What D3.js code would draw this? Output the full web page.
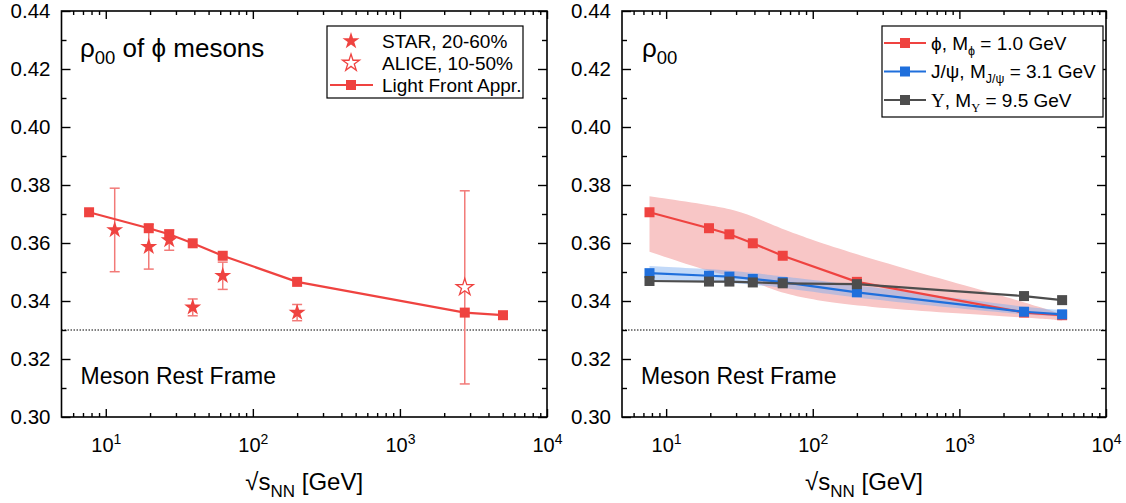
<!DOCTYPE html>
<html>
<head>
<meta charset="utf-8">
<script src="https://cdn.jsdelivr.net/npm/d3@7"></script>
<style>
  body { margin: 0; background: #fff; }
  svg { font-family: "Liberation Sans", Arial, sans-serif; }
</style>
</head>
<body>
<svg id="chart" width="1126" height="503"></svg>
<script>
// Energies (GeV) and light-front rho00 for phi
const energies = [7.7, 19.6, 27, 39, 62.4, 200, 2760, 5020];
const rhoPhi = [0.3706, 0.3651, 0.3630, 0.3599, 0.3556, 0.3466, 0.3360, 0.3351];
const rhoJpsi = [0.3496, 0.3487, 0.3484, 0.3476, 0.3465, 0.3430, 0.3363, 0.3354];
const rhoUps = [0.3469, 0.3467, 0.3467, 0.3464, 0.3461, 0.3458, 0.3417, 0.3403];

// bands (right panel)
const phiUpper = [0.3761, 0.3731, 0.3718, 0.3694, 0.3645, 0.3557, 0.3398, 0.3354];
const phiLower = [0.3570, 0.3501, 0.3488, 0.3470, 0.3421, 0.3378, 0.3344, 0.3333];
const jpsiUpper = [0.3521, 0.3510, 0.3505, 0.3497, 0.3485, 0.3455, 0.3378, 0.3369];
const jpsiLower = [0.3472, 0.3466, 0.3462, 0.3456, 0.3447, 0.3409, 0.3352, 0.3346];

// data points (left panel)
const starEnergy = [11.5, 19.6, 27, 39, 62.4, 200];
const starRho = [0.3645, 0.3587, 0.3610, 0.3378, 0.3487, 0.3360];
const starErr = [0.0144, 0.0077, 0.0035, 0.0029, 0.0047, 0.0028];
const aliceEnergy = [2760];
const aliceRho = [0.3447];
const aliceErr = [0.0333];

const yTicks = [0.30, 0.32, 0.34, 0.36, 0.38, 0.40, 0.42, 0.44];
const yMinor = [0.31, 0.33, 0.35, 0.37, 0.39, 0.41, 0.43];
const xMajor = [10, 100, 1000, 10000];

const red = "#ef4340", blue = "#1f6fdc", gray = "#4d4d4d";

const svg = d3.select("#chart");
const plotTop = 11, plotBottom = 417;

const y = d3.scaleLinear().domain([0.30, 0.44]).range([plotBottom, plotTop]);

const xMinor = [];
[1, 10, 100, 1000].forEach(d => { for (let k = 2; k <= 9; k++) if (d * k > 5) xMinor.push(d * k); });

function panel(x0, x1) {
  const x = d3.scaleLog().domain([5, 10000]).range([x0, x1]);
  const g = svg.append("g");

  // dotted line at 0.33
  g.append("line")
    .attr("x1", x0).attr("x2", x1)
    .attr("y1", y(0.33)).attr("y2", y(0.33))
    .attr("stroke", "#000").attr("stroke-width", 1)
    .attr("stroke-dasharray", "1.5,1.5");

  // axes
  const fmt = d3.format(".2f");
  g.append("g").attr("transform", `translate(${x0},0)`)
    .call(d3.axisLeft(y).tickValues(yTicks).tickSize(-9).tickSizeOuter(0).tickPadding(11).tickFormat(fmt))
    .call(a => a.selectAll("text").attr("font-size", 20.5).attr("fill", "#000").attr("font-family", "Liberation Sans, Arial"));
  g.append("g").attr("transform", `translate(${x0},0)`)
    .call(d3.axisLeft(y).tickValues(yMinor).tickSize(-5).tickSizeOuter(0).tickFormat(""));
  g.append("g").attr("transform", `translate(${x1},0)`)
    .call(d3.axisRight(y).tickValues(yTicks).tickSize(-9).tickSizeOuter(0).tickFormat(""));
  g.append("g").attr("transform", `translate(${x1},0)`)
    .call(d3.axisRight(y).tickValues(yMinor).tickSize(-5).tickSizeOuter(0).tickFormat(""));

  const xb = g.append("g").attr("transform", `translate(0,${plotBottom})`)
    .call(d3.axisBottom(x).tickValues(xMajor).tickSize(-8).tickSizeOuter(0).tickPadding(14).tickFormat(""));
  xb.selectAll(".tick text").each(function(d) {
    const t = d3.select(this).attr("font-size", 20).attr("fill", "#000")
      .attr("font-family", "Liberation Sans, Arial").attr("dy", "1.05em");
    t.append("tspan").text("10");
    t.append("tspan").attr("font-size", 14).attr("dy", "-0.55em").text(Math.round(Math.log10(d)));
  });
  g.append("g").attr("transform", `translate(0,${plotBottom})`)
    .call(d3.axisBottom(x).tickValues(xMinor).tickSize(-4).tickSizeOuter(0).tickFormat(""));
  g.append("g").attr("transform", `translate(0,${plotTop})`)
    .call(d3.axisTop(x).tickValues(xMajor).tickSize(-8).tickSizeOuter(0).tickFormat(""));
  g.append("g").attr("transform", `translate(0,${plotTop})`)
    .call(d3.axisTop(x).tickValues(xMinor).tickSize(-4).tickSizeOuter(0).tickFormat(""));
  g.selectAll(".domain").remove();
  g.selectAll(".tick line").attr("stroke-width", 1.4);

  g.append("rect")
    .attr("x", x0).attr("y", plotTop)
    .attr("width", x1 - x0).attr("height", plotBottom - plotTop)
    .attr("fill", "none").attr("stroke", "#000").attr("stroke-width", 1.6);

  // x-axis title
  const xt = g.append("text")
    .attr("x", (x0 + x1) / 2).attr("y", 490)
    .attr("text-anchor", "middle").attr("font-size", 24);
  xt.append("tspan").text("√s");
  xt.append("tspan").attr("font-size", 17).attr("dy", 7).text("NN");
  xt.append("tspan").attr("dy", -7).text(" [GeV]");

  g.append("text")
    .attr("x", x0 + 19).attr("y", 384)
    .attr("font-size", 23).text("Meson Rest Frame");

  return { g, x };
}

function squares(g, x, vals, color) {
  g.append("g").selectAll("rect")
    .data(energies.map((e, i) => [e, vals[i]]))
    .join("rect")
    .attr("x", d => x(d[0]) - 5).attr("y", d => y(d[1]) - 5)
    .attr("width", 10).attr("height", 10)
    .attr("fill", color);
}

function seriesLine(g, x, vals, color) {
  const line = d3.line().x((d, i) => x(energies[i])).y(d => y(d));
  g.append("path").datum(vals)
    .attr("fill", "none").attr("stroke", color).attr("stroke-width", 2.2)
    .attr("d", line);
  squares(g, x, vals, color);
}

function title(g, xPos, rest) {
  const t = g.append("text").attr("x", xPos).attr("y", 57).attr("font-size", 26);
  t.append("tspan").text("ρ");
  t.append("tspan").attr("font-size", 18.5).attr("dy", 7).text("00");
  if (rest) t.append("tspan").attr("dy", -7).text(rest);
}

// ---- Left panel ----
const L = panel(61.5, 547);
{
  const { g, x } = L;
  const errColor = "#f27a78";
  const bars = (E, R, Er) => E.map((e, i) => ({ e, r: R[i], er: Er[i] }));
  const allErr = bars(starEnergy, starRho, starErr).concat(bars(aliceEnergy, aliceRho, aliceErr));
  const eg = g.append("g").attr("stroke", errColor).attr("stroke-width", 1.5);
  allErr.forEach(d => {
    eg.append("line").attr("x1", x(d.e)).attr("x2", x(d.e))
      .attr("y1", y(d.r - d.er)).attr("y2", y(d.r + d.er));
    [d.r - d.er, d.r + d.er].forEach(v => eg.append("line")
      .attr("x1", x(d.e) - 5).attr("x2", x(d.e) + 5)
      .attr("y1", y(v)).attr("y2", y(v)));
  });

  seriesLine(g, x, rhoPhi, red);

  const star = d3.symbol().type(d3.symbolStar).size(90);
  g.append("g").selectAll("path")
    .data(starEnergy.map((e, i) => [e, starRho[i]]))
    .join("path")
    .attr("transform", d => `translate(${x(d[0])},${y(d[1])})`)
    .attr("d", star).attr("fill", red);
  g.append("g").selectAll("path")
    .data(aliceEnergy.map((e, i) => [e, aliceRho[i]]))
    .join("path")
    .attr("transform", d => `translate(${x(d[0])},${y(d[1])})`)
    .attr("d", star).attr("fill", "#fff").attr("stroke", red).attr("stroke-width", 1.3);

  title(g, 80, " of ϕ mesons");

  // legend
  const lg = g.append("g");
  lg.append("rect").attr("x", 327).attr("y", 26).attr("width", 196).attr("height", 72)
    .attr("fill", "#fff").attr("stroke", "#000").attr("stroke-width", 1.2);
  lg.append("path").attr("transform", "translate(351,41)").attr("d", star).attr("fill", red);
  lg.append("path").attr("transform", "translate(351,63)").attr("d", star)
    .attr("fill", "#fff").attr("stroke", red).attr("stroke-width", 1.3);
  lg.append("line").attr("x1", 330).attr("x2", 373).attr("y1", 85).attr("y2", 85)
    .attr("stroke", red).attr("stroke-width", 2.2);
  lg.append("rect").attr("x", 346).attr("y", 80).attr("width", 10).attr("height", 10).attr("fill", red);
  const items = ["STAR, 20-60%", "ALICE, 10-50%", "Light Front Appr."];
  items.forEach((s, i) => lg.append("text").attr("x", 382).attr("y", 41 + i * 22 + 6.5)
    .attr("font-size", 19).text(s));
}

// ---- Right panel ----
const R = panel(622, 1106);
{
  const { g, x } = R;
  const area = (up, lo) => d3.area()
    .x((d, i) => x(energies[i]))
    .y0((d, i) => y(lo[i]))
    .y1((d, i) => y(up[i]))
    .curve(d3.curveBasis);
  g.append("path").datum(energies).attr("d", area(phiUpper, phiLower)).attr("fill", "#f8c6c6");
  g.append("path").datum(energies).attr("d", area(jpsiUpper, jpsiLower))
    .attr("fill", "rgb(120,170,240)").attr("fill-opacity", 0.45);

  seriesLine(g, x, rhoPhi, red);
  seriesLine(g, x, rhoJpsi, blue);
  seriesLine(g, x, rhoUps, gray);

  title(g, 642, null);

  const lg = g.append("g");
  lg.append("rect").attr("x", 882).attr("y", 26).attr("width", 221).attr("height", 91)
    .attr("fill", "#fff").attr("stroke", "#000").attr("stroke-width", 1.2);
  const items = [
    { c: red, a: "ϕ", s: "ϕ", b: " = 1.0 GeV" },
    { c: blue, a: "J/ψ", s: "J/ψ", b: " = 3.1 GeV" },
    { c: gray, a: "Υ", s: "Υ", b: " = 9.5 GeV" }
  ];
  items.forEach((it, i) => {
    const yy = 43 + i * 28.5;
    const serif = it.a === "Υ" ? "Liberation Serif, serif" : null;
    lg.append("line").attr("x1", 884).attr("x2", 926).attr("y1", yy).attr("y2", yy)
      .attr("stroke", it.c).attr("stroke-width", 2.2);
    lg.append("rect").attr("x", 900).attr("y", yy - 5).attr("width", 10).attr("height", 10).attr("fill", it.c);
    const tx = lg.append("text").attr("x", 931).attr("y", yy + 6.5).attr("font-size", 19);
    tx.append("tspan").attr("font-family", serif).text(it.a);
    tx.append("tspan").text(", M");
    tx.append("tspan").attr("font-size", 12.5).attr("dy", 5).attr("font-family", serif).text(it.s);
    tx.append("tspan").attr("dy", -5).text(it.b);
  });
}
</script>
</body>
</html>
